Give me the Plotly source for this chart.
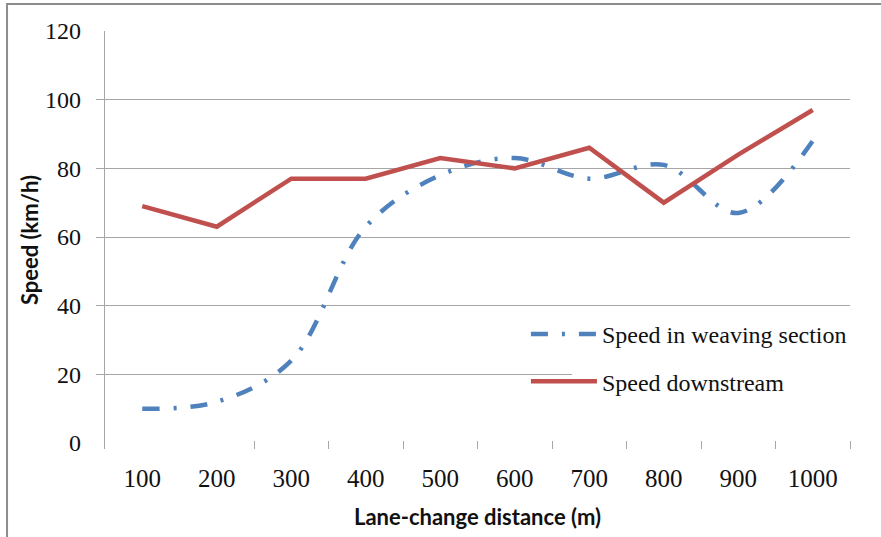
import plotly.graph_objects as go

# Lane-change distance categories (m)
distance = [100, 200, 300, 400, 500, 600, 700, 800, 900, 1000]
tick_labels = [str(d) for d in distance]

# Average speeds (km/h)
speed_weaving = [10, 12, 24, 63, 78, 83, 77, 81, 67, 88]
speed_downstream = [69, 63, 77, 77, 83, 80, 86, 70, 84, 97]

y_label_vals = [0, 20, 40, 60, 80, 100, 120]
grid_vals = [20, 40, 60, 80, 100]
x_boundary_ticks = [250, 350, 450, 550, 650, 750, 850, 950, 1050]

BLUE = "#4f81bd"
RED = "#c0504d"
GRID = "#a6a6a6"
SERIF = "Liberation Serif, Times New Roman, serif"
SANS = "Lato, Carlito, Calibri, sans-serif"

fig = go.Figure()

fig.add_trace(go.Scatter(
    x=distance, y=speed_weaving, mode="lines",
    name="Speed in weaving section", legendgroup="a",
    line=dict(color=BLUE, width=4.5, shape="spline", smoothing=1.0,
              dash="17px,14px,3px,14px"),
))
fig.add_trace(go.Scatter(
    x=distance, y=speed_downstream, mode="lines",
    name="Speed downstream", legendgroup="b",
    line=dict(color=RED, width=4.5),
))

fig.update_layout(
    width=881, height=537,
    margin=dict(l=105, r=31, t=31, b=86),
    paper_bgcolor="white", plot_bgcolor="white",
    showlegend=True,
    legend=dict(
        x=0.565, y=0.328, xanchor="left", yanchor="top",
        bgcolor="rgba(0,0,0,0)", borderwidth=0,
        font=dict(family=SERIF, size=24, color="#111"),
        itemwidth=66, tracegroupgap=13,
    ),
    shapes=[
        # white panel behind the legend text
        dict(type="rect", xref="paper", yref="paper",
             x0=0.627, x1=1.0, y0=0.0857, y1=0.3167,
             fillcolor="white", line=dict(width=0), layer="above"),
        # chart frame
        dict(type="rect", xref="paper", yref="paper",
             x0=-0.1315, x1=2.0, y0=-1.0, y1=1.0643,
             fillcolor="rgba(0,0,0,0)", line=dict(color="#8c8c8c", width=2),
             layer="above"),
    ],
)

fig.update_xaxes(
    range=[50, 1050],
    tickmode="array", tickvals=distance, ticktext=tick_labels,
    ticks="", showgrid=False, showline=False, zeroline=False,
    tickfont=dict(family=SERIF, size=25, color="#111"),
    ticklabelstandoff=12,
    minor=dict(tickmode="array", tickvals=x_boundary_ticks, ticks="inside",
               ticklen=8, tickcolor=GRID, tickwidth=1, showgrid=False),
    title=dict(text="<b>Lane-change distance (m)</b>",
               font=dict(family=SANS, size=22, color="#111"), standoff=18),
)

fig.update_yaxes(
    range=[-1.74, 120],
    tickmode="array", tickvals=y_label_vals,
    ticks="", showgrid=False, zeroline=False,
    showline=True, linecolor=GRID, linewidth=1.3,
    tickfont=dict(family=SERIF, size=24, color="#111"),
    ticklabelstandoff=18,
    minor=dict(tickmode="array", tickvals=grid_vals, ticks="outside",
               ticklen=8, tickcolor=GRID, tickwidth=1.3,
               showgrid=True, gridcolor=GRID, gridwidth=1.3),
    title=dict(text="<b>Speed (km/h)</b>",
               font=dict(family=SANS, size=22, color="#111"), standoff=0),
)

fig.write_html("out.html")
